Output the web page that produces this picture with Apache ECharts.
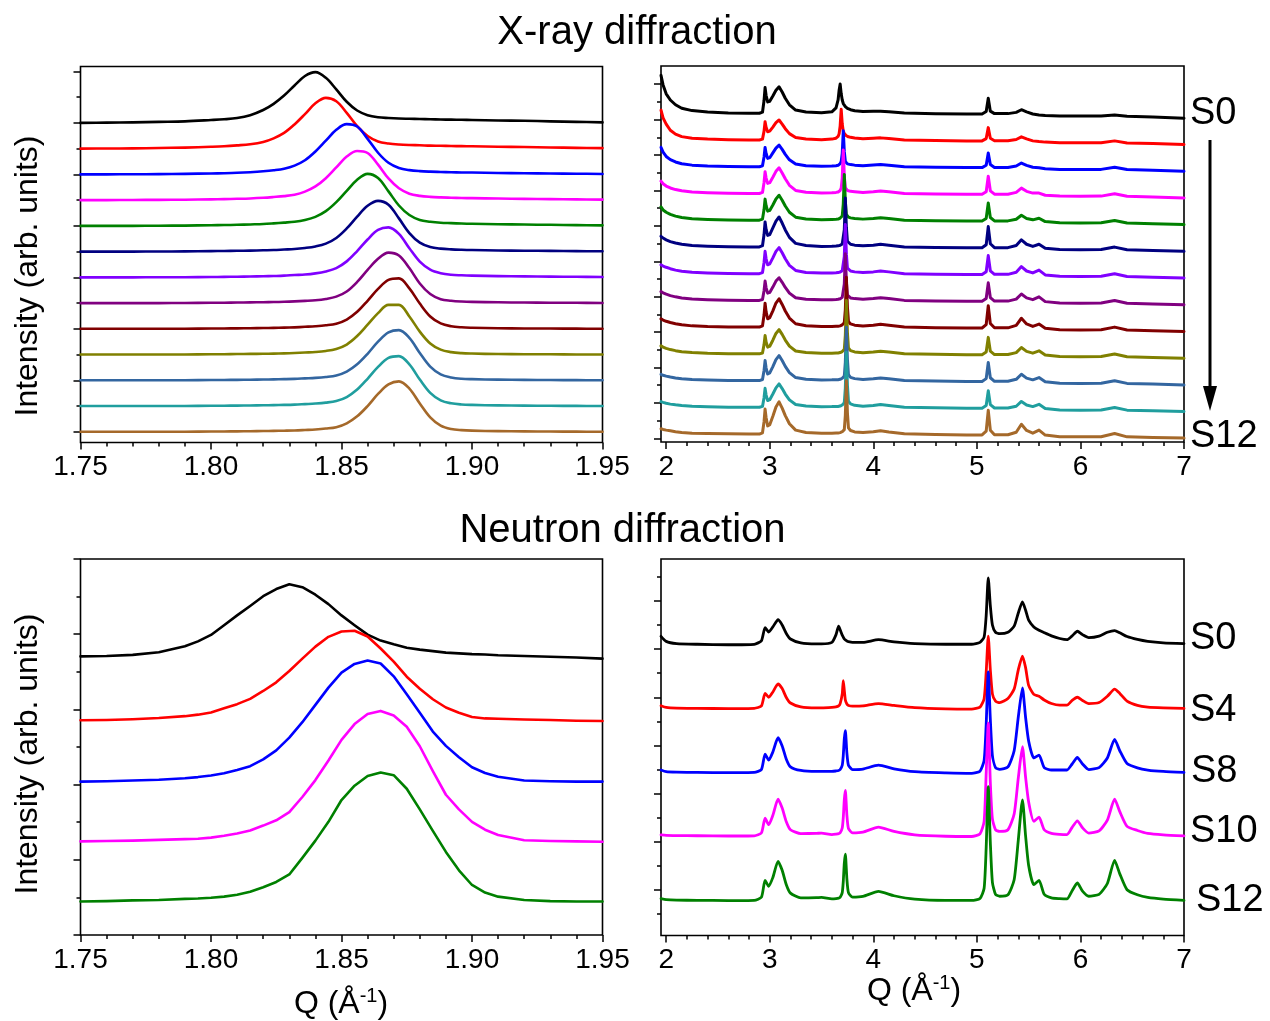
<!DOCTYPE html>
<html>
<head>
<meta charset="utf-8">
<title>X-ray and neutron diffraction, S0–S12</title>
<script src="https://cdn.jsdelivr.net/npm/echarts@6/dist/echarts.min.js"></script>
<style>
  html, body { margin: 0; padding: 0; background: #fff; }
  #chart { width: 1270px; height: 1021px; }
</style>
</head>
<body>
<div id="chart"></div>
<script>
// ---------------- X-ray, window around the main reflection ----------------
const xrayNarrowQ = [1.75, 1.76, 1.77, 1.78, 1.79, 1.80, 1.805, 1.81, 1.815, 1.82, 1.824, 1.828, 1.832, 1.836, 1.84,
  1.844, 1.848, 1.852, 1.856, 1.86, 1.864, 1.868, 1.872, 1.876, 1.88, 1.884, 1.888, 1.892, 1.896, 1.90,
  1.91, 1.92, 1.93, 1.94, 1.95];
const xrayNarrowS0 = [0, 0.01, 0.02, 0.04, 0.06, 0.11, 0.14, 0.19, 0.30, 0.50, 0.74, 1.06, 1.45, 1.82, 1.97,
  1.75, 1.30, 0.82, 0.48, 0.30, 0.22, 0.19, 0.17, 0.16, 0.15, 0.14, 0.13, 0.125, 0.12, 0.11, 0.095, 0.08, 0.06, 0.04, 0.02];
const xrayNarrowS1 = [0, 0.005, 0.01, 0.025, 0.04, 0.07, 0.09, 0.125, 0.17, 0.26, 0.40, 0.61, 0.94, 1.34, 1.76,
  1.97, 1.84, 1.39, 0.87, 0.49, 0.28, 0.20, 0.16, 0.14, 0.13, 0.115, 0.11, 0.10, 0.095, 0.09, 0.075, 0.06, 0.045, 0.03, 0.02];
const xrayNarrowS2 = [0, 0, 0.005, 0.01, 0.02, 0.035, 0.045, 0.06, 0.085, 0.12, 0.16, 0.22, 0.34, 0.55, 0.89,
  1.31, 1.73, 1.95, 1.86, 1.38, 0.84, 0.45, 0.25, 0.165, 0.125, 0.105, 0.093, 0.082, 0.075, 0.07, 0.055, 0.045, 0.033, 0.025, 0.015];
const xrayNarrowS3 = [0, 0, 0.005, 0.01, 0.015, 0.03, 0.038, 0.05, 0.065, 0.09, 0.12, 0.155, 0.21, 0.33, 0.53,
  0.85, 1.27, 1.69, 1.91, 1.83, 1.38, 0.84, 0.46, 0.25, 0.165, 0.125, 0.105, 0.093, 0.082, 0.075, 0.06, 0.047, 0.037, 0.027, 0.02];
const xrayNarrowS4 = [0, 0, 0, 0.005, 0.01, 0.025, 0.032, 0.04, 0.055, 0.07, 0.095, 0.125, 0.16, 0.23, 0.35,
  0.57, 0.92, 1.36, 1.79, 2.02, 1.86, 1.34, 0.79, 0.42, 0.23, 0.16, 0.12, 0.105, 0.09, 0.08, 0.065, 0.05, 0.04, 0.03, 0.02];
const xrayNarrowS5 = [0, 0, 0, 0.003, 0.008, 0.02, 0.025, 0.03, 0.037, 0.05, 0.06, 0.08, 0.10, 0.14, 0.20,
  0.31, 0.53, 0.90, 1.36, 1.78, 1.97, 1.82, 1.29, 0.72, 0.35, 0.18, 0.115, 0.086, 0.07, 0.06, 0.045, 0.034, 0.027, 0.018, 0.013];
const xrayNarrowS6 = [0, 0, 0, 0.002, 0.006, 0.012, 0.018, 0.025, 0.03, 0.042, 0.052, 0.065, 0.09, 0.11, 0.155,
  0.23, 0.36, 0.62, 1.02, 1.47, 1.84, 1.94, 1.69, 1.13, 0.61, 0.30, 0.16, 0.10, 0.08, 0.067, 0.047, 0.037, 0.028, 0.02, 0.014];
const xrayNarrowS7 = [0, 0, 0, 0, 0.005, 0.011, 0.015, 0.02, 0.026, 0.033, 0.04, 0.05, 0.065, 0.085, 0.11,
  0.16, 0.25, 0.45, 0.82, 1.29, 1.72, 1.96, 1.85, 1.36, 0.76, 0.35, 0.15, 0.09, 0.06, 0.045, 0.03, 0.02, 0.015, 0.01, 0.005];
const xrayNarrowS8 = [0, 0, 0, 0, 0.004, 0.01, 0.014, 0.018, 0.024, 0.03, 0.037, 0.045, 0.058, 0.078, 0.10,
  0.136, 0.20, 0.36, 0.66, 1.09, 1.55, 1.90, 1.96, 1.57, 0.98, 0.48, 0.21, 0.10, 0.058, 0.042, 0.02, 0.015, 0.01, 0.006, 0];
const xrayNarrowS9 = [0, 0, 0, 0, 0.004, 0.01, 0.014, 0.019, 0.025, 0.03, 0.038, 0.046, 0.06, 0.08, 0.10,
  0.14, 0.22, 0.39, 0.72, 1.16, 1.61, 1.93, 1.93, 1.48, 0.89, 0.43, 0.19, 0.095, 0.055, 0.04, 0.02, 0.015, 0.01, 0.005, 0];
const xrayNarrowS10 = [0, 0, 0, 0, 0.004, 0.01, 0.013, 0.017, 0.022, 0.03, 0.036, 0.044, 0.055, 0.075, 0.095,
  0.13, 0.19, 0.34, 0.62, 1.03, 1.50, 1.86, 1.95, 1.65, 1.06, 0.53, 0.23, 0.11, 0.06, 0.044, 0.025, 0.016, 0.01, 0.006, 0.003];
const xrayNarrowS11 = [0, 0, 0, 0, 0.004, 0.01, 0.013, 0.017, 0.022, 0.03, 0.036, 0.044, 0.056, 0.076, 0.097,
  0.132, 0.195, 0.35, 0.64, 1.06, 1.52, 1.87, 1.94, 1.62, 1.03, 0.51, 0.22, 0.105, 0.06, 0.044, 0.025, 0.016, 0.01, 0.006, 0.003];
const xrayNarrowS12 = [0, 0, 0, 0, 0.004, 0.01, 0.013, 0.016, 0.021, 0.028, 0.034, 0.042, 0.052, 0.07, 0.09,
  0.125, 0.18, 0.33, 0.60, 1.00, 1.47, 1.84, 1.96, 1.68, 1.10, 0.56, 0.24, 0.11, 0.065, 0.045, 0.025, 0.015, 0.01, 0.005, 0];
// vertical offset of each pattern in the stack
const xrayNarrowBase = [12, 11, 10, 9, 8, 7, 6, 5, 4, 3, 2, 1, 0];

// ---------------- X-ray, full Q range ----------------
const xrayWideQ = [1.95, 1.97, 2.0, 2.04, 2.09, 2.15, 2.25, 2.4, 2.6,
  2.8, 2.9, 2.93, 2.945, 2.955, 2.965, 2.98, 3.0, 3.03, 3.06, 3.09, 3.12, 3.15, 3.19, 3.25, 3.35, 3.5,
  3.6, 3.64, 3.66, 3.67, 3.68, 3.69, 3.7, 3.71, 3.72, 3.73, 3.74, 3.75, 3.76, 3.78, 3.82, 3.9,
  4.0, 4.07, 4.15, 4.3,
  4.6, 4.9, 5.05, 5.09, 5.11, 5.13, 5.17, 5.3,
  5.38, 5.43, 5.48, 5.54, 5.6, 5.66,
  5.8, 6.0, 6.2, 6.33, 6.45, 6.7, 7.0];
const xrayWideS0 = [2.14, 1.6, 1.1, 0.75, 0.48, 0.28, 0.15, 0.07, 0.02,
  0.0, 0.0, 0.06, 0.72, 1.45, 1.0, 0.64, 0.68, 0.98, 1.3, 1.49, 1.2, 0.85, 0.48, 0.18, 0.07, 0.03,
  0.08, 0.3, 0.75, 1.3, 1.65, 1.1, 0.75, 0.55, 0.45, 0.38, 0.32, 0.28, 0.25, 0.2, 0.14, 0.1,
  0.12, 0.12, 0.08, 0.01,
  -0.03, -0.04, -0.04, 0.1, 0.85, 0.12, -0.02, -0.02,
  0.05, 0.2, 0.08, -0.04, -0.1, -0.13,
  -0.15, -0.16, -0.16, -0.1, -0.17, -0.21, -0.28];
const xrayWideS1 = [1.69, 1.25, 0.9, 0.55, 0.33, 0.19, 0.1, 0.05, 0.02,
  0.0, 0.0, 0.05, 0.5, 1.03, 0.72, 0.47, 0.5, 0.73, 0.98, 1.13, 0.9, 0.64, 0.36, 0.14, 0.06, 0.02,
  0.05, 0.1, 0.2, 0.35, 0.8, 1.73, 0.9, 0.5, 0.36, 0.28, 0.24, 0.2, 0.18, 0.15, 0.11, 0.07,
  0.1, 0.12, 0.08, 0.0,
  -0.03, -0.05, -0.05, 0.08, 0.7, 0.1, -0.04, -0.04,
  0.03, 0.18, 0.06, -0.05, -0.09, -0.12,
  -0.15, -0.16, -0.16, -0.05, -0.17, -0.2, -0.25];
const xrayWideS2 = [1.09, 0.82, 0.58, 0.4, 0.27, 0.17, 0.09, 0.04, 0.01,
  0.0, 0.0, 0.05, 0.55, 1.09, 0.75, 0.47, 0.51, 0.78, 1.05, 1.22, 0.98, 0.7, 0.39, 0.15, 0.06, 0.02,
  0.04, 0.06, 0.08, 0.12, 0.18, 0.3, 0.75, 2.03, 0.85, 0.3, 0.2, 0.16, 0.14, 0.12, 0.09, 0.06,
  0.1, 0.13, 0.08, 0.0,
  -0.03, -0.05, -0.05, 0.08, 0.78, 0.12, -0.04, -0.04,
  0.04, 0.21, 0.08, -0.03, -0.06, -0.12,
  -0.15, -0.16, -0.15, -0.03, -0.16, -0.2, -0.25];
const xrayWideS3 = [0.7, 0.55, 0.42, 0.31, 0.22, 0.15, 0.08, 0.04, 0.01,
  0.0, 0.0, 0.06, 0.62, 1.23, 0.87, 0.57, 0.61, 0.92, 1.25, 1.45, 1.16, 0.83, 0.46, 0.17, 0.07, 0.02,
  0.04, 0.06, 0.08, 0.12, 0.17, 0.3, 0.86, 2.45, 0.98, 0.32, 0.22, 0.17, 0.15, 0.12, 0.1, 0.06,
  0.1, 0.14, 0.09, 0.0,
  -0.03, -0.05, -0.05, 0.1, 0.97, 0.15, -0.04, -0.04,
  0.06, 0.3, 0.12, 0.02, 0.02, -0.1,
  -0.15, -0.16, -0.15, -0.02, -0.16, -0.2, -0.25];
const xrayWideS4 = [0.75, 0.58, 0.45, 0.33, 0.23, 0.15, 0.08, 0.04, 0.01,
  0.0, 0.0, 0.06, 0.6, 1.19, 0.82, 0.51, 0.55, 0.86, 1.2, 1.41, 1.13, 0.8, 0.45, 0.17, 0.07, 0.02,
  0.04, 0.05, 0.06, 0.08, 0.12, 0.16, 0.24, 0.9, 2.58, 1.03, 0.32, 0.22, 0.17, 0.13, 0.1, 0.06,
  0.1, 0.14, 0.09, 0.0,
  -0.03, -0.05, -0.05, 0.1, 0.97, 0.15, -0.04, -0.04,
  0.05, 0.28, 0.1, 0.02, 0.11, -0.08,
  -0.15, -0.16, -0.15, -0.02, -0.16, -0.2, -0.25];
const xrayWideS5 = [0.6, 0.5, 0.4, 0.3, 0.22, 0.15, 0.08, 0.04, 0.01,
  0.0, 0.0, 0.07, 0.7, 1.41, 0.99, 0.65, 0.7, 1.07, 1.46, 1.69, 1.35, 0.96, 0.54, 0.2, 0.08, 0.03,
  0.04, 0.05, 0.06, 0.07, 0.09, 0.13, 0.17, 0.25, 0.97, 2.76, 1.1, 0.32, 0.21, 0.15, 0.1, 0.06,
  0.1, 0.15, 0.1, 0.0,
  -0.03, -0.05, -0.05, 0.12, 1.15, 0.18, -0.04, -0.04,
  0.08, 0.4, 0.15, 0.03, 0.15, -0.08,
  -0.15, -0.16, -0.15, -0.01, -0.16, -0.2, -0.25];
const xrayWideS6 = [0.5, 0.43, 0.36, 0.28, 0.2, 0.14, 0.08, 0.04, 0.01,
  0.0, 0.0, 0.06, 0.63, 1.26, 0.84, 0.5, 0.55, 0.89, 1.26, 1.47, 1.18, 0.84, 0.47, 0.18, 0.07, 0.03,
  0.04, 0.05, 0.06, 0.07, 0.09, 0.13, 0.17, 0.25, 0.97, 2.77, 1.1, 0.32, 0.21, 0.15, 0.1, 0.06,
  0.1, 0.15, 0.1, 0.0,
  -0.03, -0.05, -0.05, 0.11, 1.02, 0.16, -0.04, -0.04,
  0.08, 0.4, 0.15, 0.04, 0.2, -0.07,
  -0.15, -0.16, -0.15, -0.01, -0.16, -0.2, -0.25];
const xrayWideS7 = [0.5, 0.43, 0.35, 0.27, 0.2, 0.14, 0.08, 0.04, 0.01,
  0.0, 0.0, 0.05, 0.55, 1.09, 0.71, 0.41, 0.45, 0.75, 1.09, 1.28, 1.02, 0.73, 0.41, 0.15, 0.06, 0.03,
  0.04, 0.05, 0.06, 0.07, 0.09, 0.13, 0.17, 0.24, 0.92, 2.63, 1.05, 0.3, 0.2, 0.14, 0.1, 0.06,
  0.1, 0.15, 0.1, 0.0,
  -0.03, -0.05, -0.05, 0.11, 0.99, 0.16, -0.04, -0.04,
  0.07, 0.36, 0.14, 0.04, 0.2, -0.07,
  -0.15, -0.16, -0.15, -0.01, -0.16, -0.2, -0.25];
const xrayWideS8 = [0.47, 0.4, 0.33, 0.26, 0.19, 0.13, 0.07, 0.03, 0.01,
  0.0, 0.0, 0.07, 0.68, 1.35, 0.86, 0.47, 0.53, 0.92, 1.36, 1.6, 1.28, 0.91, 0.51, 0.19, 0.08, 0.03,
  0.04, 0.05, 0.05, 0.06, 0.07, 0.09, 0.13, 0.17, 0.25, 0.99, 2.82, 1.13, 0.32, 0.18, 0.11, 0.06,
  0.1, 0.16, 0.1, 0.0,
  -0.03, -0.05, -0.05, 0.14, 1.21, 0.2, -0.04, -0.04,
  0.1, 0.5, 0.18, 0.04, 0.17, -0.07,
  -0.15, -0.16, -0.15, 0.0, -0.16, -0.2, -0.25];
const xrayWideS9 = [0.45, 0.38, 0.31, 0.24, 0.18, 0.12, 0.07, 0.03, 0.01,
  0.0, 0.0, 0.05, 0.52, 1.03, 0.67, 0.38, 0.43, 0.77, 1.15, 1.37, 1.1, 0.78, 0.44, 0.16, 0.07, 0.03,
  0.04, 0.05, 0.05, 0.06, 0.07, 0.09, 0.13, 0.17, 0.25, 1.06, 3.02, 1.2, 0.33, 0.18, 0.11, 0.06,
  0.1, 0.15, 0.1, 0.0,
  -0.03, -0.05, -0.05, 0.1, 0.93, 0.15, -0.04, -0.04,
  0.07, 0.36, 0.14, 0.04, 0.17, -0.07,
  -0.15, -0.16, -0.15, -0.01, -0.16, -0.2, -0.25];
const xrayWideS10 = [0.35, 0.3, 0.25, 0.2, 0.15, 0.1, 0.06, 0.03, 0.01,
  0.0, 0.0, 0.06, 0.57, 1.13, 0.71, 0.37, 0.43, 0.79, 1.18, 1.41, 1.13, 0.8, 0.45, 0.17, 0.07, 0.03,
  0.04, 0.05, 0.05, 0.06, 0.07, 0.09, 0.13, 0.17, 0.25, 1.05, 3.01, 1.2, 0.33, 0.18, 0.11, 0.06,
  0.1, 0.15, 0.1, 0.0,
  -0.03, -0.05, -0.05, 0.11, 1.02, 0.16, -0.04, -0.04,
  0.07, 0.36, 0.14, 0.04, 0.17, -0.07,
  -0.15, -0.16, -0.15, -0.01, -0.16, -0.2, -0.25];
const xrayWideS11 = [0.32, 0.28, 0.23, 0.18, 0.14, 0.1, 0.06, 0.03, 0.01,
  0.0, 0.0, 0.05, 0.54, 1.07, 0.69, 0.38, 0.43, 0.75, 1.1, 1.32, 1.06, 0.75, 0.42, 0.16, 0.07, 0.03,
  0.04, 0.05, 0.05, 0.06, 0.07, 0.09, 0.13, 0.17, 0.26, 1.09, 3.11, 1.24, 0.34, 0.19, 0.11, 0.06,
  0.1, 0.16, 0.1, 0.0,
  -0.03, -0.05, -0.05, 0.1, 0.93, 0.15, -0.04, -0.04,
  0.06, 0.33, 0.13, 0.04, 0.17, -0.07,
  -0.15, -0.16, -0.15, -0.01, -0.16, -0.2, -0.24];
const xrayWideS12 = [0.3, 0.26, 0.22, 0.18, 0.13, 0.09, 0.05, 0.03, 0.01,
  0.0, 0.0, 0.07, 0.7, 1.41, 0.92, 0.46, 0.53, 1.0, 1.53, 1.82, 1.46, 1.04, 0.58, 0.22, 0.09, 0.05,
  0.05, 0.06, 0.06, 0.07, 0.08, 0.1, 0.13, 0.17, 0.25, 1.05, 3.01, 1.2, 0.35, 0.2, 0.12, 0.08,
  0.13, 0.19, 0.12, 0.01,
  -0.03, -0.05, -0.05, 0.16, 1.34, 0.22, -0.04, -0.04,
  0.1, 0.55, 0.2, 0.05, 0.22, -0.06,
  -0.15, -0.16, -0.15, 0.03, -0.16, -0.2, -0.23];
const xrayWideBase = [18.36, 16.85, 15.34, 13.83, 12.32, 10.81, 9.30, 7.79, 6.28, 4.77, 3.26, 1.75, 0.24];

// ---------------- Neutron, window around the main reflection ----------------
const neutronNarrowQ = [1.75, 1.76, 1.77, 1.78, 1.79, 1.795, 1.80, 1.805, 1.81, 1.815, 1.82, 1.825, 1.83, 1.835,
  1.84, 1.845, 1.85, 1.855, 1.86, 1.865, 1.87, 1.875, 1.88, 1.885, 1.89, 1.895, 1.90, 1.905, 1.91,
  1.92, 1.93, 1.94, 1.95];
const neutronNarrowS0 = [0.03, 0.04, 0.07, 0.14, 0.30, 0.43, 0.60, 0.86, 1.12, 1.37, 1.63, 1.82, 1.95, 1.87,
  1.67, 1.42, 1.12, 0.86, 0.61, 0.45, 0.35, 0.26, 0.21, 0.17, 0.13, 0.11, 0.09, 0.08, 0.06, 0.04, 0.02, 0.0, -0.03];
const neutronNarrowS4 = [0.01, 0.02, 0.04, 0.07, 0.12, 0.16, 0.22, 0.33, 0.44, 0.58, 0.79, 1.02, 1.32, 1.65,
  1.97, 2.23, 2.37, 2.39, 2.24, 1.92, 1.57, 1.17, 0.85, 0.57, 0.35, 0.21, 0.10, 0.06, 0.05, 0.03, 0.02, 0.0, -0.01];
const neutronNarrowS8 = [0.0, 0.01, 0.03, 0.05, 0.09, 0.12, 0.16, 0.22, 0.31, 0.41, 0.59, 0.83, 1.17, 1.58,
  2.04, 2.5, 2.9, 3.13, 3.22, 3.14, 2.8, 2.32, 1.83, 1.33, 0.95, 0.65, 0.38, 0.23, 0.13, 0.03, 0.01, 0.0, 0.0];
const neutronNarrowS10 = [0.0, 0.01, 0.02, 0.04, 0.06, 0.07, 0.1, 0.15, 0.21, 0.29, 0.42, 0.56, 0.78, 1.18,
  1.63, 2.15, 2.7, 3.12, 3.39, 3.47, 3.35, 3.05, 2.53, 1.87, 1.24, 0.85, 0.52, 0.31, 0.17, 0.03, 0.01, 0.0, -0.01];
const neutronNarrowS12 = [0.0, 0.01, 0.03, 0.04, 0.07, 0.08, 0.1, 0.13, 0.18, 0.26, 0.38, 0.52, 0.72, 1.16,
  1.62, 2.12, 2.7, 3.08, 3.34, 3.43, 3.36, 3.0, 2.45, 1.88, 1.32, 0.83, 0.44, 0.24, 0.13, 0.04, 0.01, 0.0, 0.0];
const neutronNarrowBase = [7.38, 5.70, 4.08, 2.49, 0.89];

// ---------------- Neutron, full Q range ----------------
const neutronWideQ = [1.95, 2.0, 2.1, 2.3, 2.6, 2.85, 2.92, 2.955, 2.99, 3.03, 3.08, 3.12, 3.16, 3.2, 3.3, 3.45, 3.5,
  3.6, 3.64, 3.665, 3.68, 3.7, 3.71, 3.72, 3.73, 3.745, 3.76, 3.8, 3.9, 4.05, 4.2, 4.4, 4.7, 4.95,
  5.03, 5.07, 5.09, 5.11, 5.13, 5.15, 5.18, 5.22, 5.3, 5.36, 5.4, 5.44, 5.47, 5.5, 5.55, 5.6, 5.65,
  5.72, 5.8, 5.87, 5.92, 5.97, 6.02, 6.08, 6.18, 6.26, 6.33, 6.38, 6.45, 6.55, 6.65, 6.8, 7.0];
const neutronWideS0 = [0.33, 0.12, 0.03, 0.0, -0.02, 0.0, 0.15, 0.69, 0.51, 0.72, 1.02, 0.8, 0.45, 0.22, 0.06, 0.02, 0.02,
  0.08, 0.4, 0.75, 0.6, 0.38, 0.3, 0.22, 0.18, 0.14, 0.11, 0.08, 0.08, 0.19, 0.1, 0.03, 0.0, 0.0,
  0.08, 0.3, 1.2, 2.76, 1.6, 0.8, 0.5, 0.44, 0.5, 0.75, 1.3, 1.76, 1.42, 1.0, 0.72, 0.58, 0.48,
  0.35, 0.24, 0.19, 0.35, 0.54, 0.4, 0.28, 0.34, 0.5, 0.57, 0.48, 0.32, 0.2, 0.12, 0.06, 0.03];
const neutronWideS4 = [0.11, 0.04, 0.01, 0.0, -0.01, 0.0, 0.1, 0.62, 0.46, 0.68, 1.01, 0.82, 0.45, 0.22, 0.06, 0.02, 0.02,
  0.04, 0.06, 0.1, 0.2, 0.6, 1.15, 0.75, 0.35, 0.18, 0.12, 0.09, 0.1, 0.2, 0.12, 0.03, -0.02, -0.03,
  0.05, 0.4, 1.5, 3.0, 1.6, 0.6, 0.3, 0.24, 0.41, 0.8, 1.6, 2.17, 1.7, 0.95, 0.58, 0.5, 0.35,
  0.2, 0.13, 0.13, 0.33, 0.46, 0.33, 0.2, 0.24, 0.5, 0.8, 0.62, 0.3, 0.12, 0.05, 0.02, 0.0];
const neutronWideS8 = [0.1, 0.03, 0.01, 0.0, -0.01, 0.0, 0.12, 0.76, 0.51, 0.85, 1.44, 1.1, 0.55, 0.23, 0.08, 0.04, 0.04,
  0.04, 0.06, 0.08, 0.12, 0.3, 0.7, 1.4, 1.73, 0.8, 0.3, 0.12, 0.14, 0.3, 0.15, 0.03, -0.02, -0.04,
  0.05, 0.5, 2.0, 4.17, 2.2, 0.7, 0.2, 0.13, 0.23, 0.9, 2.3, 3.51, 2.3, 1.3, 0.6, 0.72, 0.2,
  0.1, 0.1, 0.1, 0.35, 0.62, 0.35, 0.12, 0.2, 0.6, 1.37, 0.9, 0.37, 0.19, 0.1, 0.04, 0.0];
const neutronWideS10 = [0.04, 0.02, 0.01, 0.0, -0.01, 0.0, 0.12, 0.73, 0.46, 0.85, 1.52, 1.15, 0.58, 0.25, 0.09, 0.1, 0.11,
  0.05, 0.07, 0.09, 0.13, 0.32, 0.75, 1.5, 1.88, 0.85, 0.3, 0.12, 0.15, 0.36, 0.18, 0.04, -0.02, -0.03,
  0.08, 0.6, 2.6, 4.68, 2.2, 0.7, 0.25, 0.18, 0.25, 0.9, 2.4, 3.7, 2.45, 1.4, 0.6, 0.77, 0.25,
  0.1, 0.06, 0.05, 0.35, 0.62, 0.33, 0.11, 0.2, 0.65, 1.52, 1.0, 0.39, 0.22, 0.1, 0.04, 0.0];
const neutronWideS12 = [0.07, 0.03, 0.01, 0.0, -0.01, 0.0, 0.13, 0.83, 0.58, 0.95, 1.62, 1.25, 0.65, 0.3, 0.1, 0.11, 0.12,
  0.06, 0.07, 0.09, 0.13, 0.32, 0.78, 1.55, 1.92, 0.88, 0.32, 0.13, 0.16, 0.37, 0.19, 0.05, 0.0, 0.0,
  0.08, 0.5, 2.2, 4.72, 2.4, 0.75, 0.25, 0.17, 0.23, 0.85, 2.5, 4.17, 2.7, 1.45, 0.65, 0.83, 0.25,
  0.1, 0.07, 0.06, 0.4, 0.72, 0.38, 0.17, 0.25, 0.7, 1.66, 1.1, 0.44, 0.23, 0.12, 0.05, 0.0];
const neutronWideBase = [11.2, 8.54, 5.88, 3.25, 0.57];

// ---------------- sample names and tick positions ----------------
const xraySamples = ['S0', 'S1', 'S2', 'S3', 'S4', 'S5', 'S6', 'S7', 'S8', 'S9', 'S10', 'S11', 'S12'];
const neutronSamples = ['S0', 'S4', 'S8', 'S10', 'S12'];

const narrowQTicks = [1.75, 1.80, 1.85, 1.90, 1.95];
const narrowQMinor = [1.76, 1.77, 1.78, 1.79, 1.81, 1.82, 1.83, 1.84, 1.86, 1.87, 1.88, 1.89, 1.91, 1.92, 1.93, 1.94];
const wideQTicks = [2, 3, 4, 5, 6, 7];
const wideQMinor = [2.2, 2.4, 2.6, 2.8, 3.2, 3.4, 3.6, 3.8, 4.2, 4.4, 4.6, 4.8, 5.2, 5.4, 5.6, 5.8, 6.2, 6.4, 6.6, 6.8];

const xrayNarrowYMajor = [0, 2, 4, 6, 8, 10, 12, 14];
const xrayNarrowYMinor = [1, 3, 5, 7, 9, 11, 13];
const xrayWideYMajor = [0, 2, 4, 6, 8, 10, 12, 14, 16, 18, 20];
const xrayWideYMinor = [1, 3, 5, 7, 9, 11, 13, 15, 17, 19];
const neutronNarrowYMajor = [0, 2, 4, 6, 8, 10];
const neutronNarrowYMinor = [1, 3, 5, 7, 9];
const neutronWideYMajor = [1, 3, 5, 7, 9, 11, 13];
const neutronWideYMinor = [0, 2, 4, 6, 8, 10, 12, 14];

// ---------------- styling ----------------
const FONT = "'Liberation Sans', Arial, Helvetica, sans-serif";
const xrayColors = ['#000000', '#ff0000', '#0000ff', '#ff00ff', '#008000', '#000080', '#8000ff',
  '#800080', '#800000', '#808000', '#3366a0', '#209e9e', '#a5692a'];
const neutronColors = ['#000000', '#ff0000', '#0000ff', '#ff00ff', '#008000'];

const panels = [
  { left: 80.5, top: 66.5, width: 522, height: 376 },   // X-ray, narrow
  { left: 661, top: 66, width: 523, height: 376 },      // X-ray, wide
  { left: 80.5, top: 559, width: 522, height: 376 },    // neutron, narrow
  { left: 661, top: 559, width: 523, height: 376.5 }    // neutron, wide
];

const tickStyle = { color: '#000', width: 1.5 };
// axes stay on the frame edge instead of jumping to the zero line
const hiddenLine = { show: false, onZero: false };

function xAxesFor(gi, min, max, major, minor, fmt) {
  return [
    {
      type: 'value', gridIndex: gi, position: 'bottom', min: min, max: max,
      axisLine: hiddenLine, splitLine: { show: false },
      axisTick: { show: true, customValues: major, length: 7, lineStyle: tickStyle },
      axisLabel: { show: true, customValues: major, formatter: fmt, margin: 11,
        color: '#000', fontSize: 28, fontFamily: FONT }
    },
    {
      type: 'value', gridIndex: gi, position: 'bottom', min: min, max: max,
      axisLine: hiddenLine, splitLine: { show: false },
      axisTick: { show: true, customValues: minor, length: 4, lineStyle: tickStyle },
      axisLabel: { show: false }
    }
  ];
}

function yAxesFor(gi, min, max, major, minor) {
  return [
    {
      type: 'value', gridIndex: gi, position: 'left', min: min, max: max,
      axisLine: hiddenLine, splitLine: { show: false },
      axisTick: { show: true, customValues: major, length: 7, lineStyle: tickStyle },
      axisLabel: { show: false }
    },
    {
      type: 'value', gridIndex: gi, position: 'left', min: min, max: max,
      axisLine: hiddenLine, splitLine: { show: false },
      axisTick: { show: true, customValues: minor, length: 4, lineStyle: tickStyle },
      axisLabel: { show: false }
    }
  ];
}

// one stacked set of patterns: each curve is lifted by its baseline offset
function stackedSeries(gi, q, curves, base, names, colors, opts) {
  return curves.map(function (curve, k) {
    const lab = opts.labels && opts.labels[k];
    return {
      type: 'line',
      name: names[k],
      xAxisIndex: gi * 2,
      yAxisIndex: gi * 2,
      data: q.map(function (x, i) { return [x, curve[i] + base[k]]; }),
      showSymbol: false,
      symbol: 'none',
      smooth: opts.smooth || false,
      silent: true,
      animation: false,
      lineStyle: { color: colors[k], width: opts.width, join: 'round', cap: 'round' },
      itemStyle: { color: colors[k] },
      emphasis: { disabled: true },
      endLabel: lab ? {
        show: true,
        formatter: names[k],
        color: '#000',
        fontSize: 38,
        fontFamily: FONT,
        distance: lab.distance,
        offset: lab.offset
      } : { show: false }
    };
  });
}

const fmtNarrow = function (v) { return v.toFixed(2); };
const fmtWide = function (v) { return String(Math.round(v)); };

const series = [].concat(
  stackedSeries(0, xrayNarrowQ,
    [xrayNarrowS0, xrayNarrowS1, xrayNarrowS2, xrayNarrowS3, xrayNarrowS4, xrayNarrowS5, xrayNarrowS6,
     xrayNarrowS7, xrayNarrowS8, xrayNarrowS9, xrayNarrowS10, xrayNarrowS11, xrayNarrowS12],
    xrayNarrowBase, xraySamples, xrayColors, { width: 2.6, smooth: 0.35 }),
  stackedSeries(1, xrayWideQ,
    [xrayWideS0, xrayWideS1, xrayWideS2, xrayWideS3, xrayWideS4, xrayWideS5, xrayWideS6,
     xrayWideS7, xrayWideS8, xrayWideS9, xrayWideS10, xrayWideS11, xrayWideS12],
    xrayWideBase, xraySamples, xrayColors,
    { width: 3, labels: { 0: { distance: 6, offset: [0, -5] }, 12: { distance: 6, offset: [0, -2] } } }),
  stackedSeries(2, neutronNarrowQ,
    [neutronNarrowS0, neutronNarrowS4, neutronNarrowS8, neutronNarrowS10, neutronNarrowS12],
    neutronNarrowBase, neutronSamples, neutronColors, { width: 2.6 }),
  stackedSeries(3, neutronWideQ,
    [neutronWideS0, neutronWideS4, neutronWideS8, neutronWideS10, neutronWideS12],
    neutronWideBase, neutronSamples, neutronColors,
    { width: 2.8, smooth: 0.2, labels: {
      0: { distance: 6, offset: [0, -5] },
      1: { distance: 6, offset: [0, 2] },
      2: { distance: 7, offset: [0, -1] },
      3: { distance: 6, offset: [0, -4] },
      4: { distance: 12, offset: [0, 0] }
    } })
);

// titles, axis names and the S0 -> S12 arrow
const pw = panels[1];
const arrowX = pw.left + pw.width + 26;
const textBase = { fill: '#000', fontFamily: FONT, textAlign: 'center', align: 'center',
  textVerticalAlign: 'middle', verticalAlign: 'middle' };
function label(x, y, text, size, rot, rich) {
  return {
    type: 'text', x: x, y: y, rotation: rot || 0, silent: true,
    style: Object.assign({}, textBase, { text: text, fontSize: size, rich: rich })
  };
}
const qRich = {
  sup: { fontSize: 20, fontFamily: FONT, fill: '#000', verticalAlign: 'top', lineHeight: 36 }
};

const graphic = [
  label(637, 32.5, 'X-ray diffraction', 40),
  label(622.5, 531, 'Neutron diffraction', 40),
  label(28.5, 276, 'Intensity (arb. units)', 32, Math.PI / 2),
  label(28.5, 754, 'Intensity (arb. units)', 32, Math.PI / 2),
  label(341, 1004, 'Q (Å{sup|-1})', 32, 0, qRich),
  label(914, 991, 'Q (Å{sup|-1})', 32, 0, qRich),
  {
    type: 'line', silent: true,
    shape: { x1: arrowX, y1: pw.top + 74, x2: arrowX, y2: pw.top + 322 },
    style: { stroke: '#000', lineWidth: 3 }
  },
  {
    type: 'polygon', silent: true,
    shape: { points: [[arrowX - 7, pw.top + 320], [arrowX + 7, pw.top + 320], [arrowX, pw.top + 345]] },
    style: { fill: '#000' }
  }
];

const option = {
  animation: false,
  backgroundColor: '#ffffff',
  grid: panels.map(function (p) {
    return { left: p.left, top: p.top, width: p.width, height: p.height,
      show: true, borderColor: '#000', borderWidth: 1.6, backgroundColor: 'transparent', containLabel: false };
  }),
  xAxis: [].concat(
    xAxesFor(0, 1.75, 1.95, narrowQTicks, narrowQMinor, fmtNarrow),
    xAxesFor(1, 1.95, 7, wideQTicks, wideQMinor, fmtWide),
    xAxesFor(2, 1.75, 1.95, narrowQTicks, narrowQMinor, fmtNarrow),
    xAxesFor(3, 1.95, 7, wideQTicks, wideQMinor, fmtWide)
  ),
  yAxis: [].concat(
    yAxesFor(0, -0.416, 14.19, xrayNarrowYMajor, xrayNarrowYMinor),
    yAxesFor(1, -0.21, 21.03, xrayWideYMajor, xrayWideYMinor),
    yAxesFor(2, 0, 10, neutronNarrowYMajor, neutronNarrowYMinor),
    yAxesFor(3, -0.89, 14.74, neutronWideYMajor, neutronWideYMinor)
  ),
  series: series,
  graphic: graphic
};

const chart = echarts.init(document.getElementById('chart'), null, { renderer: 'canvas' });
chart.setOption(option);
</script>
</body>
</html>
